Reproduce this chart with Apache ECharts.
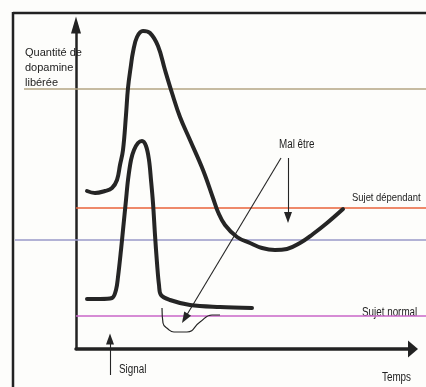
<!DOCTYPE html>
<html>
<head>
<meta charset="utf-8">
<script src="https://cdn.jsdelivr.net/npm/echarts@6/dist/echarts.min.js"></script>
<style>
  html, body {margin: 0; padding: 0; background: #fdfdfb;}
  #main {width: 426px; height: 387px;}
</style>
</head>
<body>
<div id="main"></div>
<script>
  var sujetDependant = [
    [11, 158], [19, 156], [29, 158], [36, 161], [41, 169], [44, 184], [47, 199], [50, 234],
    [52, 261], [55, 284], [57, 297], [61, 312], [67, 318], [74, 316], [82, 303], [89, 279],
    [96, 256], [104, 232], [114, 209], [127, 179], [137, 151], [142, 137], [149, 124],
    [161, 112], [174, 106], [186, 101], [199, 99], [211, 100], [224, 106], [237, 115],
    [251, 126], [267, 140]
  ];
  var sujetNormal = [
    [11, 50], [24, 50], [36, 51], [40, 59], [42, 72], [45, 99], [47, 119], [50, 149],
    [52, 169], [55, 189], [58, 199], [62, 206], [66, 208], [70, 203], [73, 189], [75, 169],
    [77, 146], [79, 114], [81, 86], [83, 64], [85, 54], [94, 49], [114, 44], [144, 42], [176, 41]
  ];
  var malEtre = [
    [86, 41], [87, 26], [92, 20], [98, 17], [111, 17], [124, 27], [136, 34], [144, 34]
  ];
  // niveaux horizontaux
  var niveauxNoms = ['haut', 'Sujet dépendant', 'milieu', 'Sujet normal'];
  var niveauxValeurs = [260, 141, 109, 33];
  var niveauxDebut = [-52, 0, -61, 0];
  var niveauxCouleurs = ['#b3a483', '#e8623a', '#9898c8', '#c866c8'];
  // flèches : départ -> pointe
  var flecheDiag = [[205, 191], [106, 26]];
  var flecheVert = [[212, 191], [212, 126]];
  var flecheSignal = [[34, -26], [34, 16]];

  var myChart = echarts.init(document.getElementById('main'));

  function fleche(f, tete) {
    // recule le bout de la ligne de la moitié de la tête
    var dx = f[1][0] - f[0][0], dy = f[1][1] - f[0][1];
    var l = Math.sqrt(dx * dx + dy * dy);
    var fin = [f[1][0] - dx / l * tete / 2, f[1][1] - dy / l * tete / 2];
    return [{coord: f[0]}, {coord: fin}];
  }

  function texte(t, x, y, size) {
    return {
      type: 'text', x: x, y: y, scaleX: 0.82, silent: true,
      style: {text: t, font: size + 'px "Liberation Sans", Arial, sans-serif', fill: '#222', verticalAlign: 'middle'}
    };
  }

  var series = [];
  niveauxValeurs.forEach(function (v, i) {
    series.push({
      name: niveauxNoms[i],
      type: 'line',
      data: [[niveauxDebut[i], v], [360, v]],
      symbol: 'none',
      silent: true,
      lineStyle: {color: niveauxCouleurs[i], width: 1.3}
    });
  });
  series.push({
    name: 'dependant',
    type: 'line',
    data: sujetDependant,
    smooth: 0.4,
    symbol: 'none',
    silent: true,
    lineStyle: {color: '#252525', width: 4, cap: 'round', join: 'round'}
  });
  series.push({
    name: 'normal',
    type: 'line',
    data: sujetNormal,
    smooth: 0.35,
    symbol: 'none',
    silent: true,
    lineStyle: {color: '#252525', width: 4, cap: 'round', join: 'round'}
  });
  series.push({
    name: 'malEtre',
    type: 'line',
    data: malEtre,
    smooth: 0.5,
    symbol: 'none',
    silent: true,
    lineStyle: {color: '#252525', width: 1.2},
    markLine: {
      silent: true,
      symbol: ['none', 'triangle'],
      symbolSize: [8, 11],
      label: {show: false},
      lineStyle: {color: '#252525', width: 1.1, type: 'solid'},
      emphasis: {disabled: true},
      data: [fleche(flecheDiag, 11), fleche(flecheVert, 11), fleche(flecheSignal, 12)]
    }
  });

  var option = {
    animation: false,
    backgroundColor: '#fdfdfb',
    grid: [
      {left: 13, top: 13, right: 0, bottom: 0},
      {left: 76, top: 25, right: 13, bottom: 38}
    ],
    xAxis: [
      {type: 'value', gridIndex: 0, min: -63, max: 350, show: false},
      {
        type: 'value', gridIndex: 1, min: 0, max: 100,
        axisLine: {show: true, onZero: false, symbol: ['none', 'triangle'], symbolSize: [17, 10], lineStyle: {color: '#222', width: 3.5}},
        axisTick: {show: false}, axisLabel: {show: false}, splitLine: {show: false}
      }
    ],
    yAxis: [
      {type: 'value', gridIndex: 0, min: -38, max: 336, show: false},
      {
        type: 'value', gridIndex: 1, min: 0, max: 100,
        axisLine: {show: true, onZero: false, symbol: ['none', 'triangle'], symbolSize: [10, 17], lineStyle: {color: '#222', width: 2.5}},
        axisTick: {show: false}, axisLabel: {show: false}, splitLine: {show: false}
      }
    ],
    graphic: [
      // cadre (haut et gauche)
      {type: 'line', silent: true, shape: {x1: 13, y1: 13, x2: 426, y2: 13}, style: {stroke: '#222', lineWidth: 2.5}},
      {type: 'line', silent: true, shape: {x1: 13, y1: 12, x2: 13, y2: 387}, style: {stroke: '#222', lineWidth: 2.5}},
      {
        type: 'text', left: 25, top: 45, silent: true,
        style: {text: 'Quantité de\ndopamine\nlibérée', font: '11px "Liberation Sans", Arial, sans-serif', fill: '#222', lineHeight: 15}
      },
      texte('Mal être', 279, 145, 12),
      texte('Sujet dépendant', 352, 198, 11.5),
      texte('Sujet normal', 362, 313, 12),
      texte('Signal', 119, 370, 12),
      texte('Temps', 382, 378, 12)
    ],
    series: series
  };
  myChart.setOption(option);
</script>
</body>
</html>
